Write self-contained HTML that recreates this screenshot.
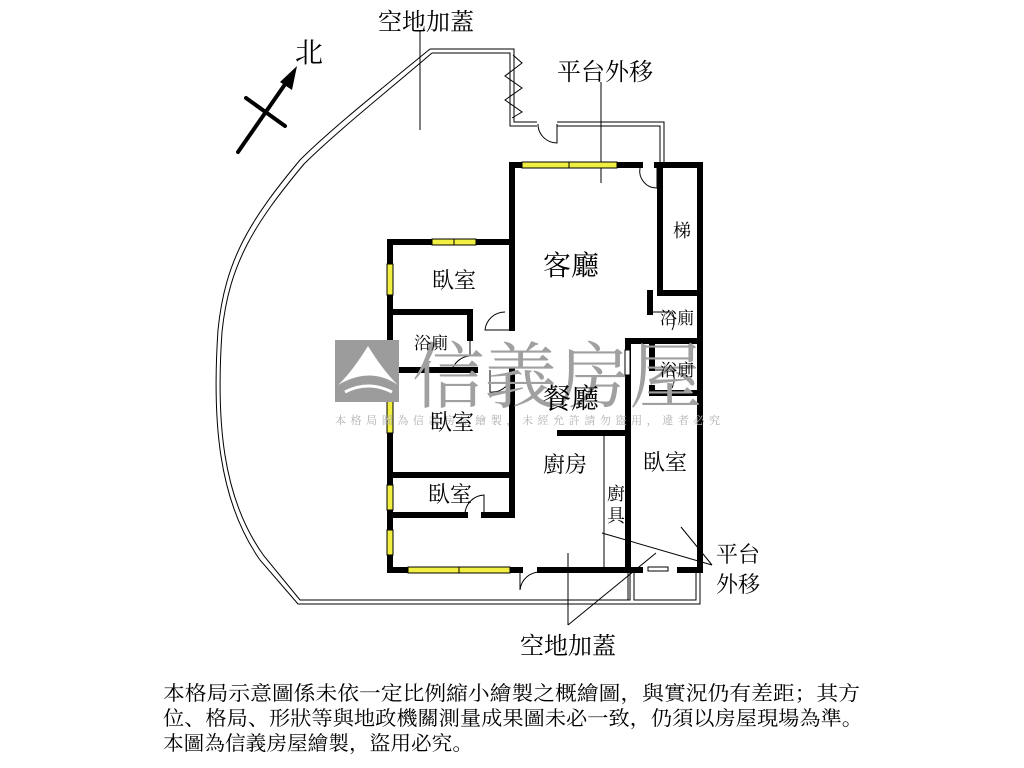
<!DOCTYPE html>
<html><head><meta charset="utf-8"><style>
html,body{margin:0;padding:0;background:#fff;}
svg{display:block;}
text{font-family:"Liberation Serif","Noto Serif CJK SC",serif;}
</style></head><body>
<svg width="1024" height="768" viewBox="0 0 1024 768" xmlns="http://www.w3.org/2000/svg">
<g fill="none" stroke="#000" stroke-width="1">
<path d="M430,49 L514,49 L514,122 L537,122 M557,122 L664,122 L664,165"/>
<path d="M432,53 L510,53 L510,126 L537,126 M557,126 L660,126 L660,165"/>
<path d="M430,49 C380,90 330,130 300,160 C250,220 225,260 218,330 C212,420 218,500 260,560 L298,604 L700,604 L700,570"/>
<path d="M432,53 C384,94 334,134 304,164 C254,224 229,264 222,332 C216,420 222,498 264,556 L300,600 L630,600 L630,572 M634,572 L634,600 L696,600 L696,570"/>
<path d="M628,572 L628,600"/>
<polyline points="513,55 522,63 505,76 522,88 505,100 522,112 512,118"/>
<line x1="420" y1="30" x2="420" y2="130"/>
<line x1="601" y1="82" x2="601" y2="183"/>
<line x1="568" y1="553" x2="568" y2="625"/>
<line x1="568" y1="625" x2="656" y2="553"/>
<line x1="602" y1="533" x2="712" y2="565"/>
<line x1="681" y1="527" x2="712" y2="565"/>
<line x1="604" y1="435" x2="604" y2="568"/>
</g>
<g stroke="#000" stroke-width="6" fill="none" stroke-linecap="square">
<path d="M512,328 L512,165 L640,165"/>
<path d="M657,165 L700,165 L700,570 L680,570"/>
<path d="M660,165 L660,293 L700,293"/>
<path d="M650,293 L650,312"/>
<path d="M628,341 L700,341"/>
<path d="M652,341 L652,368 M652,388 L652,393 L700,393"/>
<path d="M628,341 L628,570 L640,570"/>
<path d="M512,242 L390,242 L390,570 L520,570"/>
<path d="M540,570 L628,570"/>
<path d="M390,312 L470,312 L470,338"/>
<path d="M390,370 L475,370"/>
<path d="M512,370 L512,515 L484,515 M465,515 L390,515"/>
<path d="M390,475 L512,475"/>
<path d="M560,433 L628,433"/>
</g>
<g fill="#f0ee40" stroke="#000" stroke-width="1">
<rect x="522" y="162" width="95" height="6"/>
<rect x="432" y="239" width="44" height="6"/>
<rect x="387" y="264" width="6" height="31"/>
<rect x="387" y="343" width="6" height="19"/>
<rect x="387" y="400" width="6" height="33"/>
<rect x="387" y="485" width="6" height="25"/>
<rect x="387" y="530" width="6" height="25"/>
<rect x="408" y="567" width="102" height="6"/>
</g>
<g stroke="#000" stroke-width="1" fill="#fff">
<rect x="625" y="350" width="5" height="25"/>
<rect x="648" y="567" width="20" height="4"/>
<line x1="569" y1="162" x2="569" y2="168"/>
<line x1="454" y1="239" x2="454" y2="245"/>
<line x1="459" y1="567" x2="459" y2="573"/>
</g>
<g fill="none" stroke="#000" stroke-width="1">
<path d="M657,167 L657,188 A17,17 0 0 1 640,168"/>
<path d="M557,124 L557,143 A19,19 0 0 1 538,124"/>
<path d="M512,330 L485,330 A20,20 0 0 1 505,312"/>
<path d="M470,341 L470,356 A20,20 0 0 0 452,370"/>
<path d="M490,370 L490,392 A20,20 0 0 0 512,372"/>
<path d="M484,515 L484,495 A20,20 0 0 0 465,513"/>
<path d="M520,572 L520,590 A20,20 0 0 1 540,572"/>
<path d="M652,312 L672,312 A20,20 0 0 1 672,330"/>
<path d="M652,370 L672,370 A20,20 0 0 1 672,388"/>
</g>
<g stroke="#000" stroke-width="4" stroke-linecap="round">
<line x1="238" y1="152" x2="288" y2="80"/>
<line x1="246" y1="98" x2="285" y2="126"/>
</g>
<polygon points="297,66 280,82 292,90" fill="#000"/>
<text x="295" y="62" font-size="28">北</text>
<!-- watermark -->
<rect x="335" y="340" width="64" height="62" fill="#9c9c9c"/>
<path d="M338,385 Q352,372 368,346 Q384,372 398,385 Q370,366 338,385Z" fill="#fff"/>
<path d="M345,392 Q368,380 392,392" stroke="#fff" stroke-width="3" fill="none"/>
<text x="412" y="402" font-size="72" fill="#a0a0a0" font-family="Liberation Sans,Noto Sans CJK TC,sans-serif" textLength="290" lengthAdjust="spacingAndGlyphs">信義房屋</text>
<text x="335" y="424" font-size="11" fill="#b0b0b0" font-family="Liberation Sans,Noto Sans CJK TC,sans-serif" textLength="385" lengthAdjust="spacing">本格局圖為信義房屋繪製，未經允許請勿盜用，違者必究</text>
<g fill="#000">
<text x="378" y="30" font-size="24">空地加蓋</text>
<text x="557" y="80" font-size="24">平台外移</text>
<text x="543" y="275" font-size="28">客廳</text>
<text x="432" y="288" font-size="22">臥室</text>
<text x="673" y="237" font-size="18">梯</text>
<text x="414" y="349" font-size="17">浴廁</text>
<text x="660" y="324" font-size="17">浴廁</text>
<text x="660" y="376" font-size="17">浴廁</text>
<text x="543" y="408" font-size="28">餐廳</text>
<text x="430" y="430" font-size="22">臥室</text>
<text x="543" y="472" font-size="22">廚房</text>
<text x="643" y="470" font-size="22">臥室</text>
<text x="428" y="502" font-size="22">臥室</text>
<text x="607" y="500" font-size="18">廚</text>
<text x="607" y="522" font-size="18">具</text>
<text x="716" y="562" font-size="22">平台</text>
<text x="716" y="592" font-size="22">外移</text>
<text x="520" y="654" font-size="24">空地加蓋</text>
<text x="163" y="700" font-size="20" textLength="697" lengthAdjust="spacingAndGlyphs">本格局示意圖係未依一定比例縮小繪製之概繪圖，與實況仍有差距；其方</text>
<text x="163" y="725" font-size="20" textLength="700" lengthAdjust="spacingAndGlyphs">位、格局、形狀等與地政機關測量成果圖未必一致，仍須以房屋現場為準。</text>
<text x="163" y="750" font-size="20" textLength="310" lengthAdjust="spacingAndGlyphs">本圖為信義房屋繪製，盜用必究。</text>
</g>
</svg>
</body></html>
